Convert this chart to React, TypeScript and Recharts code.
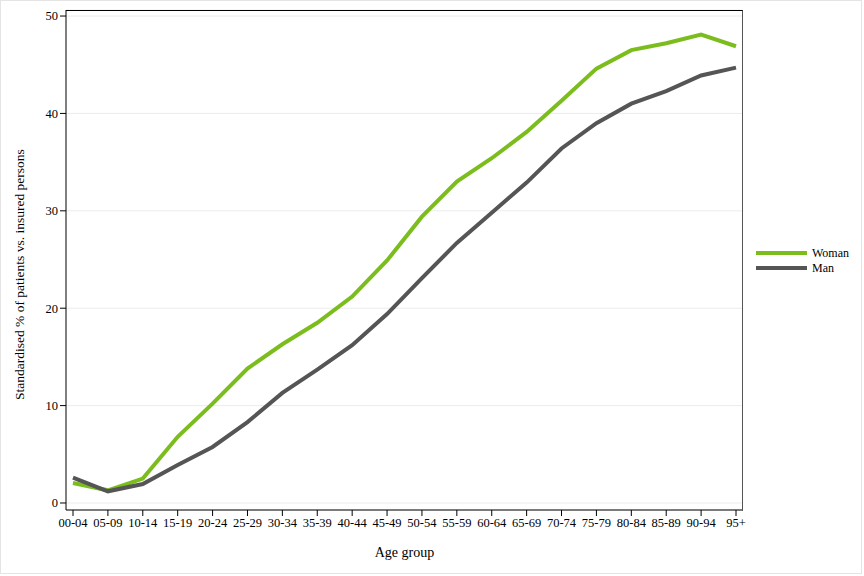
import React from 'react'
import { LineChart, Line, XAxis, YAxis, CartesianGrid } from "recharts";

const ageGroups = [
    "00-04", "05-09", "10-14", "15-19", "20-24", "25-29", "30-34", "35-39", "40-44", "45-49",
    "50-54", "55-59", "60-64", "65-69", "70-74", "75-79", "80-84", "85-89", "90-94", "95+",
];
const woman = [2.05, 1.3, 2.5, 6.8, 10.2, 13.8, 16.3, 18.5, 21.2, 24.9, 29.4, 33.0, 35.4, 38.1, 41.3, 44.6, 46.5, 47.2, 48.1, 46.9];
const man = [2.6, 1.2, 1.95, 3.9, 5.75, 8.3, 11.3, 13.7, 16.2, 19.4, 23.1, 26.7, 29.8, 32.9, 36.4, 39.0, 41.0, 42.3, 43.9, 44.7];
const yTicks = [0, 10, 20, 30, 40, 50];

const GREEN = "#7cbd1e";
const GREY = "#555555";
const FONT = "'Liberation Serif', 'Times New Roman', serif";

const data = ageGroups.map((g, i) => ({ group: g, Woman: woman[i], Man: man[i] }));

function SideLegend() {
    return (
        <svg width={100} height={40} style={{ position: "absolute", left: 756, top: 245, fontFamily: FONT }}>
            <line x1={0} y1={8} x2={51} y2={8} stroke={GREEN} strokeWidth={4} />
            <text x={56} y={12} fontSize={12} fill="#000">Woman</text>
            <line x1={0} y1={23} x2={51} y2={23} stroke={GREY} strokeWidth={4} />
            <text x={56} y={27} fontSize={12} fill="#000">Man</text>
        </svg>
    )
}

function App() {
    return (
        <div style={{ position: "absolute", left: 0, top: 0, width: 864, height: 576, background: "#fff" }}>
            <div style={{ position: "absolute", left: 0, top: 0, width: 860, height: 572, border: "1px solid #e4e4e4" }} />
            <LineChart width={864} height={576} data={data}
                margin={{ top: 10, right: 121, bottom: 20, left: 0 }}
                style={{ fontFamily: FONT }}>
                <CartesianGrid vertical={false} stroke="#ececec" />
                <XAxis dataKey="group" padding={{ left: 7, right: 7 }} height={46}
                    stroke="#000" tickSize={6} interval={0}
                    tick={{ fontSize: 12.5, fill: "#000" }}
                    label={{ value: "Age group", position: "insideBottom", offset: -1, fontSize: 14, fill: "#000" }} />
                <YAxis domain={[-0.72, 50.62]} ticks={yTicks} width={66} stroke="#000" tickSize={6}
                    tick={{ fontSize: 12.5, fill: "#000" }}
                    label={{ value: "Standardised % of patients vs. insured persons", angle: -90, position: "insideLeft", offset: 19, dy: 140, fontSize: 13.5, fill: "#000" }} />
                <Line dataKey="Woman" stroke={GREEN} strokeWidth={4} dot={false} isAnimationActive={false} />
                <Line dataKey="Man" stroke={GREY} strokeWidth={4} dot={false} isAnimationActive={false} />
            </LineChart>
            <div style={{ position: "absolute", left: 66, top: 10, width: 676, height: 500, borderTop: "1px solid #000", borderRight: "1px solid #555", pointerEvents: "none" }} />
            <SideLegend />
        </div>
    )
}

export default App
